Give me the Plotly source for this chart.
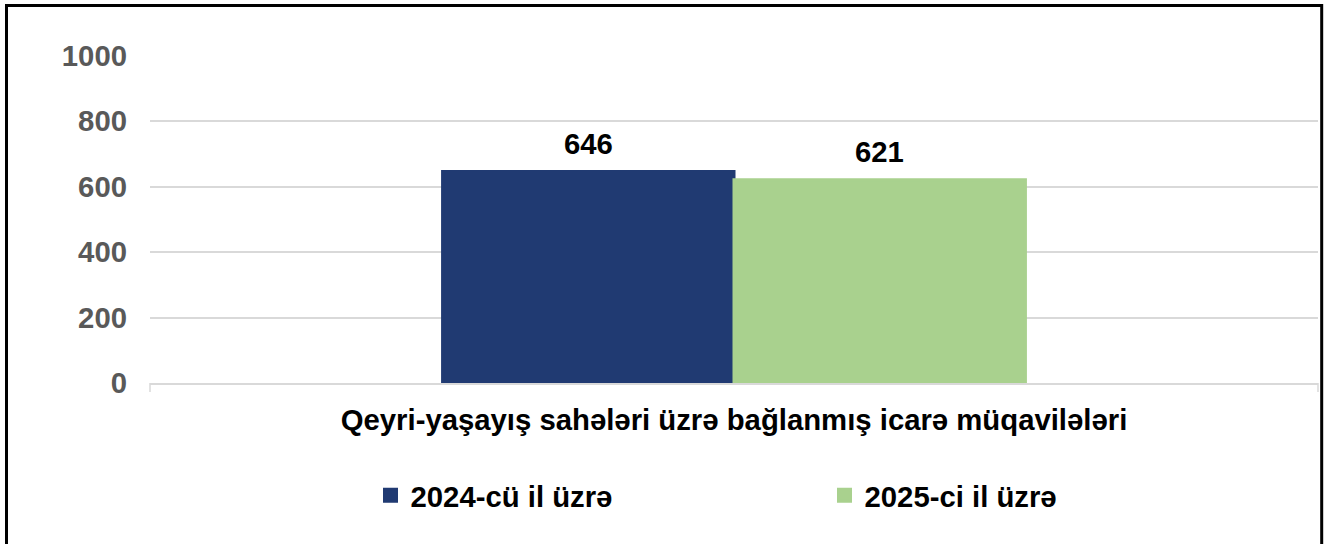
import plotly.graph_objects as go

categories = ["Qeyri-yaşayış sahələri üzrə bağlanmış icarə müqavilələri"]
series_names = ["2024-cü il üzrə", "2025-ci il üzrə"]
values_2024 = [646]
values_2025 = [621]
colors = ["#203A72", "#A9D18E"]
tick_vals = [0, 200, 400, 600, 800, 1000]

FONT = "Liberation Sans, Arial, sans-serif"
FS = 29.3

W, H = 1330, 544
Y_MAX = 1002
L = 150
R = 1330 - 1318
ph = 327 * Y_MAX / 1000
T = 383 - ph
B = H - T - ph
pw = W - L - R
BARGAP = 0.501
LINE_W = 3

fig = go.Figure()
for name, vals, col in zip(series_names, [values_2024, values_2025], colors):
    fig.add_trace(go.Bar(
        x=categories, y=vals, name=name,
        marker=dict(color=col, line=dict(width=LINE_W, color=col)),
    ))

bar_w = pw * (1 - BARGAP) / 2
annotations = []
for i, vals in enumerate([values_2024, values_2025]):
    for c, v in zip(categories, vals):
        annotations.append(dict(
            x=c, y=v, xref="x", yref="y", text=str(v), showarrow=False,
            xanchor="center", yanchor="bottom", yshift=10,
            xshift=(i - 0.5) * bar_w,
            font=dict(family=FONT, size=FS, color="#000000", weight="bold"),
        ))


def px_x(x):
    return (x - L) / pw


def px_y(y):
    return (383 - y) / 327 * 1000 / Y_MAX


fig.update_layout(
    width=W, height=H,
    margin=dict(l=L, r=R, t=T, b=B, pad=0),
    paper_bgcolor="white", plot_bgcolor="white",
    barmode="group", bargap=BARGAP, bargroupgap=0,
    font=dict(family=FONT, size=FS, color="#000000", weight="bold"),
    showlegend=True,
    legend=dict(
        orientation="h", x=px_x(370.5), xanchor="left", y=px_y(495.5), yanchor="middle",
        entrywidth=409, entrywidthmode="pixels", itemwidth=30,
        font=dict(family=FONT, size=FS, color="#000000", weight="bold"),
        bgcolor="rgba(0,0,0,0)",
    ),
    xaxis=dict(
        showgrid=False, showline=True, linecolor="#D9D9D9", linewidth=1.5,
        ticks="", tickfont=dict(family=FONT, size=FS, color="#000000", weight="bold"),
        ticklabelstandoff=10,
    ),
    yaxis=dict(
        range=[0, Y_MAX], tickvals=tick_vals, showgrid=True, gridcolor="#D9D9D9", gridwidth=1.5,
        zeroline=False, showline=False, ticks="", ticklabelstandoff=22,
        tickfont=dict(family=FONT, size=FS, color="#595959", weight="bold"),
    ),
    annotations=annotations,
    shapes=[
        dict(type="rect", xref="paper", yref="paper",
             x0=px_x(6.5), x1=px_x(1321.7), y0=px_y(570), y1=px_y(6),
             line=dict(color="#000000", width=3), fillcolor="rgba(0,0,0,0)", layer="above"),
        dict(type="line", xref="paper", yref="paper", x0=0, x1=0, y0=0, y1=px_y(392),
             line=dict(color="#D9D9D9", width=1.5)),
        dict(type="line", xref="paper", yref="paper", x0=1, x1=1, y0=0, y1=px_y(392),
             line=dict(color="#D9D9D9", width=1.5)),
    ],
)

fig.write_html(
    "out.html",
    config={"displayModeBar": False},
    post_script="document.body.style.margin='0';document.body.style.overflow='hidden';",
)
